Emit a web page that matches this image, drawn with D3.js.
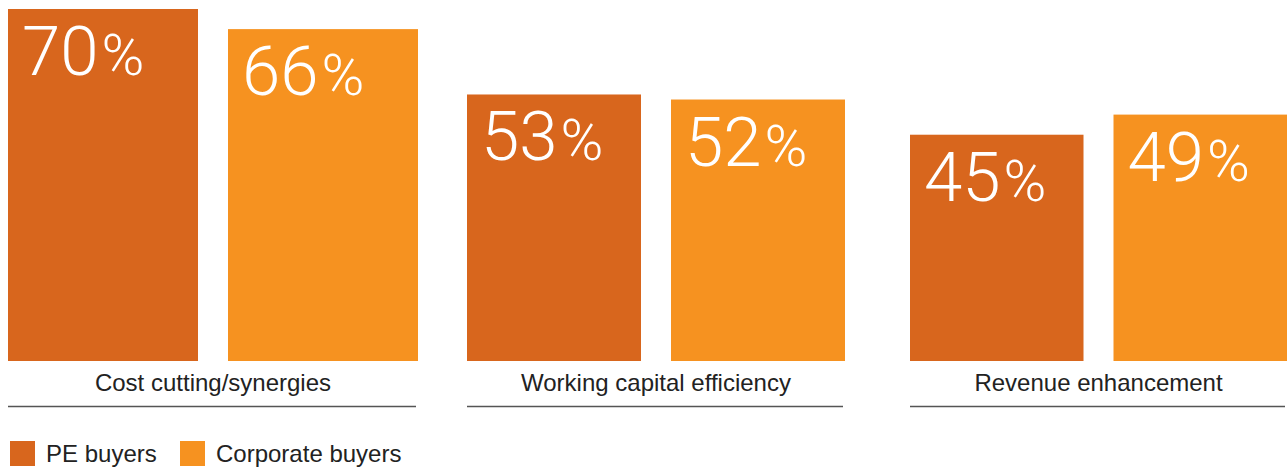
<!DOCTYPE html>
<html>
<head>
<meta charset="utf-8">
<script src="https://cdn.jsdelivr.net/npm/d3@7/dist/d3.min.js"></script>
<style>
  html, body { margin: 0; padding: 0; background: #fff; }
  svg { display: block; }
</style>
</head>
<body>
<svg id="chart" width="1287" height="468"></svg>
<script>
const categories = ["Cost cutting/synergies", "Working capital efficiency", "Revenue enhancement"];
const seriesNames = ["PE buyers", "Corporate buyers"];
const peValues = [70, 53, 45];
const corpValues = [66, 52, 49];

const colors = { "PE buyers": "#D8661D", "Corporate buyers": "#F69220" };

const svg = d3.select("#chart");

const groupX = d3.scaleOrdinal()
  .domain(categories)
  .range([[8, 418], [467, 845], [910, 1287]]);

const y = d3.scaleLinear().domain([0, 70]).range([361, 9]);

const gap = 30;
const data = categories.map((c, i) => ({
  category: c,
  values: [
    { series: seriesNames[0], value: peValues[i] },
    { series: seriesNames[1], value: corpValues[i] }
  ]
}));

const groups = svg.selectAll("g.group").data(data).enter().append("g").attr("class", "group");

groups.each(function(d) {
  const g = d3.select(this);
  const [x0, x1] = groupX(d.category);
  const step = (x1 - x0 + gap) / 2;
  const inner = d3.scaleBand().domain(seriesNames).range([x0, x1])
    .paddingInner(gap / step).paddingOuter(0);

  g.selectAll("rect").data(d.values).enter().append("rect")
    .attr("x", v => inner(v.series))
    .attr("y", v => y(v.value))
    .attr("width", inner.bandwidth())
    .attr("height", v => y(0) - y(v.value))
    .attr("fill", v => colors[v.series]);

  const lbl = g.selectAll("text.val").data(d.values).enter().append("text")
    .attr("class", "val")
    .attr("x", v => inner(v.series) + 14)
    .attr("y", v => y(v.value) + 66)
    .attr("fill", "#fff")
    .style("font-family", "Roboto, 'Liberation Sans', sans-serif")
    .style("font-weight", 300);
  lbl.append("tspan").style("font-size", "69px").text(v => v.value);
  lbl.append("tspan").attr("dx", 3).style("font-size", "58px").text("%");

  g.append("text")
    .attr("x", (x0 + x1) / 2)
    .attr("y", 391)
    .attr("text-anchor", "middle")
    .attr("fill", "#222")
    .style("font-family", "'Liberation Sans', Arial, sans-serif")
    .style("font-size", "24px")
    .text(d.category);

  g.append("line")
    .attr("x1", x0).attr("x2", x1 - 2)
    .attr("y1", 406.5).attr("y2", 406.5)
    .attr("stroke", "#555").attr("stroke-width", 1.5);
});

// Legend
const legendPos = d3.scaleOrdinal().domain(seriesNames).range([10, 180]);
const leg = svg.selectAll("g.legend").data(seriesNames).enter().append("g").attr("class", "legend");
leg.append("rect")
  .attr("x", s => legendPos(s)).attr("y", 441)
  .attr("width", 25).attr("height", 25)
  .attr("fill", s => colors[s]);
leg.append("text")
  .attr("x", s => legendPos(s) + 36)
  .attr("y", 462)
  .attr("fill", "#222")
  .style("font-family", "'Liberation Sans', Arial, sans-serif")
  .style("font-size", "24px")
  .text(s => s);
</script>
</body>
</html>
